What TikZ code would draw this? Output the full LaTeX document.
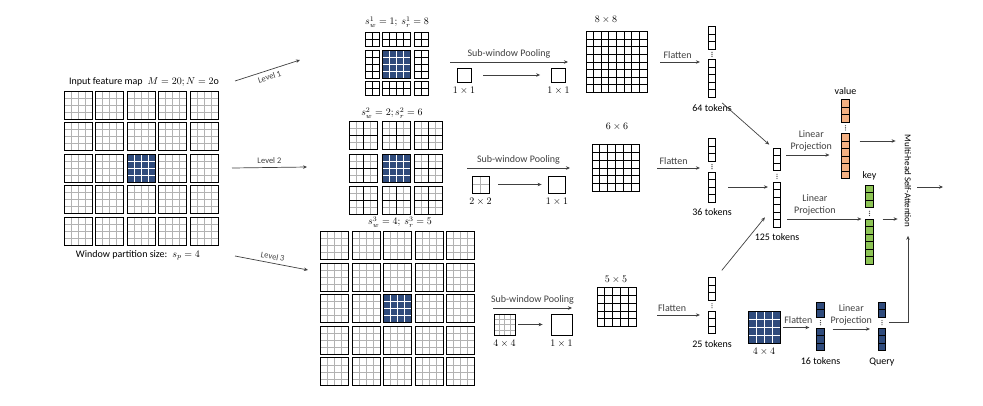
\documentclass[tikz,border=0pt]{standalone}
\usepackage{fontspec}
\setmainfont{Carlito}
\usetikzlibrary{arrows.meta, positioning, calc}
\definecolor{winnavy}{HTML}{2F4B7C}
\definecolor{valorange}{HTML}{F4B183}
\definecolor{keygreen}{HTML}{8DC455}
\newcommand{\gapdots}[2]{%
  \foreach \f in {0.3,0.5,0.7}
    \fill[black!70] ($(#1.south)!\f!(#2.north)$) circle (0.65pt);}

\begin{document}
\begin{tikzpicture}[x=1pt, y=-1pt,
    font=\fontsize{10}{12}\selectfont,
    lattice/.style n args={3}{path picture={
        \foreach \k in {1,...,#1}
          \draw[#3] ($(path picture bounding box.north west)!\k/#1!(path picture bounding box.north east)$)
            -- ($(path picture bounding box.south west)!\k/#1!(path picture bounding box.south east)$);
        \foreach \k in {1,...,#2}
          \draw[#3] ($(path picture bounding box.north west)!\k/#2!(path picture bounding box.south west)$)
            -- ($(path picture bounding box.north east)!\k/#2!(path picture bounding box.south east)$);
      }},
    win/.style={draw, line width=0.9pt, inner sep=0pt, minimum size=28pt,
                lattice={4}{4}{black!30, line width=0.5pt}},
    hot/.style={draw, fill=winnavy, line width=0.9pt, inner sep=0pt, minimum size=28pt,
                lattice={4}{4}{white, line width=0.7pt}},
    blk/.style n args={2}{draw, line width=0.9pt, inner sep=0pt,
                minimum width=#1*7pt, minimum height=#2*7pt,
                lattice={#1}{#2}{black, line width=0.8pt}},
    sq/.style={draw, line width=0.8pt, inner sep=0pt, minimum size=#1},
    tok/.style={draw, line width=0.7pt, inner sep=0pt, minimum width=7.5pt,
                minimum height=#1*7.5pt, lattice={1}{#1}{black, line width=0.7pt}},
    lvl/.style={font=\fontsize{8.5}{9}\selectfont},
    arr/.style={-{Stealth[length=4pt, width=3.5pt]}, black!75, line width=0.7pt},
  ]
  \useasboundingbox (0,0) rectangle (983,405);

  \foreach \i in {1,...,5}
    \foreach \j in {1,...,5}
      \node[win] (in-\i-\j) at ({78+31.5*(\i-1)}, {105+31.5*(\j-1)}) {};
  \node[hot] at (in-3-3) {};
  \node (intitle) at (144,82) {Input feature map\enspace $M = 20; N = 2\mathrm{o}$};
  \node (insize) at (138,255) {Window partition size:\enspace $s_p = 4$};

  \foreach \col/\x/\nx in {1/372/2, 2/396.5/4, 3/421/2}
    \foreach \row/\y/\ny in {1/39.5/2, 2/64/4, 3/88.5/2}
      \node[blk={\nx}{\ny}] (lv1-\col-\row) at (\x,\y) {};
  \node[hot] at (lv1-2-2) {};
  \node (lv1t) at (397,22) {$s_w^1 = 1;\ s_r^1 = 8$};

  \foreach \i in {1,2,3}
    \foreach \j in {1,2,3} {
      \node[win] (lv2-\i-\j) at ({363.5+32.5*(\i-1)}, {135.5+32.5*(\j-1)}) {};
      \draw[line width=0.9pt] (lv2-\i-\j.north) -- (lv2-\i-\j.south)
                              (lv2-\i-\j.west) -- (lv2-\i-\j.east);
    }
  \node[hot] at (lv2-2-2) {};
  \node (lv2t) at (392,113) {$s_w^2 = 2; s_r^2 = 6$};

  \foreach \i in {1,...,5}
    \foreach \j in {1,...,5}
      \node[win] (lv3-\i-\j) at ({334.5+31.5*(\i-1)}, {245.5+31.6*(\j-1)}) {};
  \node[hot] at (lv3-3-3) {};
  \node (lv3t) at (400,222) {$s_w^3 = 4;\ s_r^3 = 5$};

  \coordinate (l1s) at (235,81);  \coordinate (l1e) at (300,60);
  \coordinate (l2s) at (232,168); \coordinate (l2e) at (307,167);
  \coordinate (l3s) at (235,256); \coordinate (l3e) at (308,270);
  \draw[arr] (l1s) -- node[below, sloped, lvl] {Level 1} (l1e);
  \draw[arr] (l2s) -- node[above, sloped, lvl] {Level 2} (l2e);
  \draw[arr] (l3s) -- node[above, sloped, lvl] {Level 3} (l3e);

  \node[sq=14pt] (p1a) at (464,75) {};
  \node[below=1pt of p1a] {$1\times1$};
  \node[sq=14pt] (p1b) at (558.5,75) {};
  \node[below=1pt of p1b] {$1\times1$};
  \draw[arr, shorten <=12pt, shorten >=11pt] (p1a) -- (p1b);
  \coordinate (sw1s) at (450,62); \coordinate (sw1e) at (568,62);
  \draw[arr] (sw1s) -- node[above] {Sub-window Pooling} (sw1e);

  \node[sq=17pt, lattice={2}{2}{black!30, line width=0.5pt}] (p2a) at (480.5,184.5) {};
  \node[below=1pt of p2a] {$2\times2$};
  \node[sq=17pt] (p2b) at (557,184.5) {};
  \node[below=1pt of p2b] {$1\times1$};
  \draw[arr, shorten <=9pt, shorten >=6.5pt] (p2a) -- (p2b);
  \coordinate (sw2s) at (467,168); \coordinate (sw2e) at (570,168);
  \draw[arr] (sw2s) -- node[above] {Sub-window Pooling} (sw2e);

  \node[sq=21pt, lattice={4}{4}{black!30, line width=0.5pt}] (p3a) at (504.5,324.5) {};
  \node[below=1pt of p3a] {$4\times4$};
  \node[sq=21pt] (p3b) at (561.5,324.5) {};
  \node[below=1pt of p3b] {$1\times1$};
  \draw[arr, shorten <=3pt, shorten >=8pt] (p3a) -- (p3b);
  \coordinate (sw3s) at (493,308); \coordinate (sw3e) at (572,308);
  \draw[arr] (sw3s) -- node[above] {Sub-window Pooling} (sw3e);

  \node[sq=61pt, lattice={8}{8}{black, line width=0.8pt}] (g8) at (616.5,62) {};
  \node at (606,20) {$8\times8$};
  \node[sq=47pt, lattice={6}{6}{black, line width=0.8pt}] (g6) at (615.5,168) {};
  \node at (617,127) {$6\times6$};
  \node[sq=39pt, lattice={5}{5}{black, line width=0.8pt}] (g5) at (616.5,307) {};
  \node at (616,280) {$5\times5$};

  \node[tok=3] (t64a) at (712,37.75) {};
  \node[tok=5] (t64b) at (712,78.5) {};
  \gapdots{t64a}{t64b}
  \node[below=3pt of t64b] {64 tokens};
  \node[tok=3] (t36a) at (712,150) {};
  \node[tok=4] (t36b) at (712,187) {};
  \gapdots{t36a}{t36b}
  \node[below=3pt of t36b] {36 tokens};
  \node[tok=3] (t25a) at (712,289) {};
  \node[tok=3] (t25b) at (712,322.5) {};
  \gapdots{t25a}{t25b}
  \node[below=3pt of t25b] {25 tokens};

  \draw[arr, shorten <=13pt, shorten >=8pt] (g8.east) -- (g8.east -| t64b.west) node[midway, above] {Flatten};
  \draw[arr, shorten <=18pt, shorten >=8pt] (g6.east) -- (g6.east -| t36b.west) node[midway, above] {Flatten};
  \coordinate (f3) at ([yshift=-8pt]g5.east);
  \draw[arr, shorten <=21pt, shorten >=8pt] (f3) -- (f3 -| t25b.west) node[midway, above] {Flatten};

  \node[tok=3] (t125a) at (777,159.5) {};
  \node[tok=6] (t125b) at (777,204.5) {};
  \gapdots{t125a}{t125b}
  \node[below=3pt of t125b] {125 tokens};
  \draw[arr, shorten <=8pt, shorten >=5pt] (t64b.south east) -- (t125a.north west);
  \draw[arr, shorten <=12pt, shorten >=5pt] (t36b.east) -- (t36b.east -| t125b.west);
  \draw[arr, shorten <=9pt] (t25a.north east) -- ([shift={(-8pt,10pt)}]t125b.south west);

  \node[tok=3, fill=valorange] (vala) at (845.5,111) {};
  \node[tok=6, fill=valorange] (valb) at (845.5,156) {};
  \gapdots{vala}{valb}
  \node[above=1pt of vala] {value};
  \node[tok=3, fill=keygreen] (keya) at (869.5,196.5) {};
  \node[tok=6, fill=keygreen] (keyb) at (869.5,241.5) {};
  \gapdots{keya}{keyb}
  \node[above=1pt of keya] {key};

  \coordinate (lp1) at ([yshift=4.5pt]t125a.east);
  \draw[arr, shorten <=5pt, shorten >=12pt] (lp1) -- (lp1 -| valb.west)
    node[midway, above, align=center] {Linear\\Projection};
  \coordinate (lp2) at ([yshift=-14.5pt]t125b.east);
  \draw[arr, shorten <=6pt, shorten >=4pt] (lp2) -- (lp2 -| keyb.west)
    node[pos=0.4, above, align=center] {Linear\\Projection};

  \node[rotate=-90, font=\fontsize{9}{10}\selectfont] (mhsa) at (908,181) {Multi-head Self-Attention};
  \coordinate (v2m) at ([yshift=15pt]valb.east);
  \draw[arr, shorten <=10pt] (v2m) -- ++(46,0);
  \coordinate (k2m) at ([yshift=22.5pt]keyb.east);
  \draw[arr, shorten <=9pt] (k2m) -- ++(24,0);
  \coordinate (out) at (917,187);
  \draw[arr] (out) -- ++(26,0);

  \node[hot, minimum size=32pt] (q44) at (764,327.5) {};
  \node[below=1pt of q44] {$4\times4$};
  \node[tok=2, fill=winnavy] (t16a) at (820.5,309.5) {};
  \node[tok=3, fill=winnavy] (t16b) at (820.5,339.5) {};
  \gapdots{t16a}{t16b}
  \node[below=3pt of t16b] {16 tokens};
  \node[tok=2, fill=winnavy] (qrya) at (882,309.5) {};
  \node[tok=3, fill=winnavy] (qryb) at (882,339.5) {};
  \gapdots{qrya}{qryb}
  \node[below=3pt of qryb] {Query};
  \draw[arr, shorten <=3pt, shorten >=7pt] (q44.east) -- (q44.east -| t16b.west)
    node[midway, above] {Flatten};
  \coordinate (lp3) at ([yshift=10.5pt]t16b.east);
  \draw[arr, shorten <=8pt, shorten >=8pt] (lp3) -- (lp3 -| qryb.west)
    node[midway, above, align=center] {Linear\\Projection};
  \coordinate (q2m) at ($(qrya.south east)!0.5!(qryb.north east)$);
  \draw[arr, shorten <=3pt, shorten >=5pt] (q2m) -| (mhsa.east);
\end{tikzpicture}
\end{document}
